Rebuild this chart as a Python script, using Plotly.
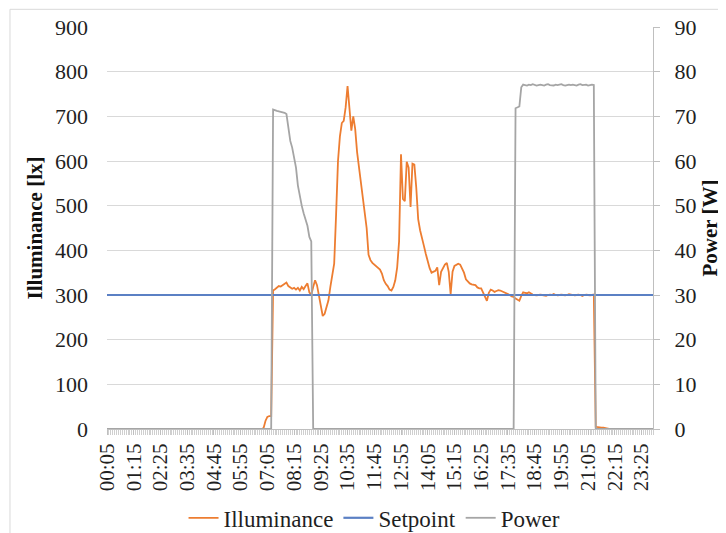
import pandas as pd
import plotly.graph_objects as go

# 5-minute samples from 00:05 to 23:55
TIMES = pd.date_range("2021-01-01 00:05", "2021-01-01 23:55", freq="5min")

TICK_LABELS = ["00:05", "01:15", "02:25", "03:35", "04:45", "05:55", "07:05", "08:15",
               "09:25", "10:35", "11:45", "12:55", "14:05", "15:15", "16:25", "17:35",
               "18:45", "19:55", "21:05", "22:15", "23:25"]

ILLUMINANCE = [
    0, 0, 0, 0, 0, 0, 0, 0, 0, 0, 0, 0, 0, 0, 0, 0, 0, 0, 0, 0,
    0, 0, 0, 0, 0, 0, 0, 0, 0, 0, 0, 0, 0, 0, 0, 0, 0, 0, 0, 0,
    0, 0, 0, 0, 0, 0, 0, 0, 0, 0, 0, 0, 0, 0, 0, 0, 0, 0, 0, 0,
    0, 0, 0, 0, 0, 0, 0, 0, 0, 0, 0, 0, 0, 0, 0, 0, 0, 0, 0, 0,
    0, 0,
    2, 18, 27, 29, 29,
    310, 313, 316, 320, 319, 322, 325, 328, 320, 316, 314, 316, 312, 316, 310, 318, 313, 320, 326, 306,
    300, 318, 333, 322, 298, 268, 253, 258, 272, 288, 318, 340, 370, 480, 600, 655, 685, 690, 720, 768,
    715, 668, 700, 672, 620, 585, 555, 515, 490, 450, 390, 378, 372, 368, 363, 360, 357, 348, 333, 325,
    320, 312, 310, 318, 333, 362, 420, 615, 515, 510, 598, 585, 497, 594, 592, 540, 470, 445, 430, 410,
    392, 375, 360, 350, 352, 354, 362, 322, 352, 362, 368, 372, 352, 302, 352, 365, 368, 370, 368, 360,
    350, 335, 330, 326, 324, 323, 322, 317, 315, 315, 305, 296, 287, 305, 312, 310, 307, 309, 311, 310,
    308, 307, 304, 302, 300, 297, 296, 292, 290, 287, 298, 306, 305, 304, 306, 303, 301, 300,
    299, 300, 301, 300, 299, 298, 300, 301, 300, 302, 300, 299, 300, 301, 300, 299, 300, 302, 301, 300,
    299, 300, 301, 300, 298, 300, 301, 300, 299, 300, 301,
    5, 4, 4, 3, 3, 2,
    0, 0, 0, 0, 0, 0, 0, 0, 0, 0, 0, 0, 0, 0, 0, 0, 0, 0, 0, 0, 0, 0, 0, 0, 0,
]

SETPOINT_LEVEL = 300
SETPOINT = [SETPOINT_LEVEL for _ in TIMES]

POWER = [
    0, 0, 0, 0, 0, 0, 0, 0, 0, 0, 0, 0, 0, 0, 0, 0, 0, 0, 0, 0,
    0, 0, 0, 0, 0, 0, 0, 0, 0, 0, 0, 0, 0, 0, 0, 0, 0, 0, 0, 0,
    0, 0, 0, 0, 0, 0, 0, 0, 0, 0, 0, 0, 0, 0, 0, 0, 0, 0, 0, 0,
    0, 0, 0, 0, 0, 0, 0, 0, 0, 0, 0, 0, 0, 0, 0, 0, 0, 0, 0, 0,
    0, 0, 0, 0, 0, 0, 0,
    71.5, 71.3, 71.2, 71.1, 71.0, 70.9, 70.8, 70.5, 67.0, 64.5, 63.0, 61.0, 58.5, 54.5, 52.0, 50.0,
    48.3, 47.0, 45.5, 43.0, 42.0,
    0, 0, 0, 0, 0, 0, 0, 0, 0, 0, 0, 0, 0, 0, 0, 0, 0, 0, 0, 0,
    0, 0, 0, 0, 0, 0, 0, 0, 0, 0, 0, 0, 0, 0, 0, 0, 0, 0, 0, 0,
    0, 0, 0, 0, 0, 0, 0, 0, 0, 0, 0, 0, 0, 0, 0, 0, 0, 0, 0, 0,
    0, 0, 0, 0, 0, 0, 0, 0, 0, 0, 0, 0, 0, 0, 0, 0, 0, 0, 0, 0,
    0, 0, 0, 0, 0, 0, 0, 0, 0, 0, 0, 0, 0, 0, 0, 0, 0, 0, 0, 0,
    0, 0, 0, 0, 0, 0,
    71.8, 72.0, 72.2, 76.5,
    77.1, 77.0, 76.9, 77.1, 77.0, 77.2, 77.0, 76.9, 77.0, 77.1, 77.0, 76.9, 77.1, 77.2, 77.0, 77.0,
    76.9, 77.1, 77.0, 77.1, 77.2, 77.0, 76.9, 77.0, 77.1, 77.0, 77.1, 77.0, 76.9, 77.1, 77.2, 77.0,
    77.0, 77.1, 76.9, 77.0, 77.1, 77.0,
    0, 0, 0, 0, 0, 0, 0, 0, 0, 0, 0, 0, 0, 0, 0, 0, 0, 0, 0, 0,
    0, 0, 0, 0, 0, 0, 0, 0, 0, 0, 0,
]

TICK_VALS = [t for t in TIMES if t.strftime("%H:%M") in TICK_LABELS]

SERIF = "Times New Roman, Liberation Serif, DejaVu Serif, serif"
GRID = "#d9d9d9"
AXIS = "#bfbfbf"
TXT = "#1f1f1f"

fig = go.Figure()
fig.add_trace(go.Scatter(x=TIMES, y=ILLUMINANCE, name="Illuminance", mode="lines",
                         line=dict(color="#ED7D31", width=1.8)))
fig.add_trace(go.Scatter(x=TIMES, y=SETPOINT, name="Setpoint", mode="lines",
                         line=dict(color="#5B80C4", width=2.2)))
fig.add_trace(go.Scatter(x=TIMES, y=POWER, name="Power", mode="lines", yaxis="y2",
                         line=dict(color="#A5A5A5", width=1.8)))

fig.update_layout(
    width=718, height=525,
    margin=dict(l=99, r=73, t=19, b=104, autoexpand=False),
    paper_bgcolor="white", plot_bgcolor="white",
    font=dict(family=SERIF, size=21, color=TXT),
    showlegend=True,
    legend=dict(orientation="h", x=0.49, xanchor="center", y=-0.221, yanchor="middle",
                font=dict(family=SERIF, size=23, color=TXT),
                itemwidth=30, tracegroupgap=0, bgcolor="rgba(0,0,0,0)"),
    xaxis=dict(
        type="date", automargin=False,
        range=[TIMES[0], TIMES[-1]],
        tickmode="array", tickvals=TICK_VALS, ticktext=TICK_LABELS,
        tickangle=-90,
        ticks="outside", ticklen=5, tickcolor=AXIS, tickwidth=1,
        minor=dict(ticks="outside", dtick=300000, ticklen=5, tickcolor="#cfcfcf", tickwidth=1,
                   showgrid=False),
        showgrid=False, showline=True, linecolor=AXIS, linewidth=1,
        tickfont=dict(family=SERIF, size=21, color=TXT),
        zeroline=False,
    ),
    yaxis=dict(
        range=[0, 900], dtick=100, automargin=False,
        showgrid=True, gridcolor=GRID, gridwidth=1,
        showline=False, zeroline=False, ticks="",
        ticklabelstandoff=18,
        tickfont=dict(family=SERIF, size=22, color=TXT),
        title=dict(text="<b>Illuminance [lx]</b>", standoff=6,
                   font=dict(family=SERIF, size=21, color="#111111")),
    ),
    yaxis2=dict(
        range=[0, 90], dtick=10, overlaying="y", side="right", automargin=False,
        showgrid=False, zeroline=False,
        showline=True, linecolor=AXIS, linewidth=1,
        ticks="outside", ticklen=6, tickcolor=AXIS,
        ticklabelstandoff=10,
        tickfont=dict(family=SERIF, size=22, color=TXT),
        title=dict(text="<b>Power [W]</b>", standoff=6,
                   font=dict(family=SERIF, size=21, color="#111111")),
    ),
    shapes=[dict(type="rect", xref="paper", yref="paper",
                 x0=-0.1777, x1=1.15, y0=-0.3, y1=1.044,
                 line=dict(color=GRID, width=1), fillcolor="rgba(0,0,0,0)", layer="below")],
)

fig.write_html("out.html")
